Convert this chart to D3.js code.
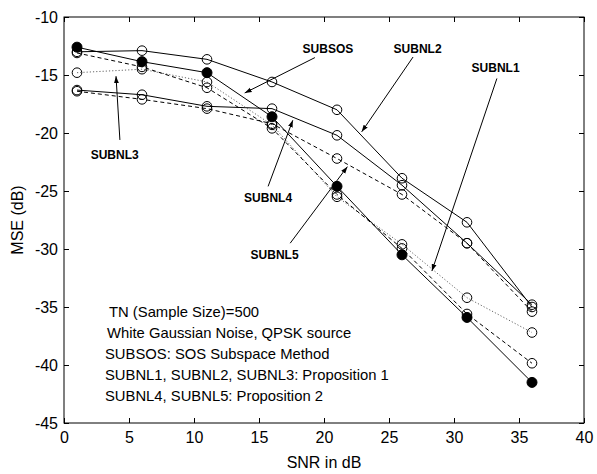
<!DOCTYPE html>
<html>
<head>
<meta charset="utf-8">
<script src="https://cdn.jsdelivr.net/npm/d3@7"></script>
<style>
body { margin: 0; background: #fff; }
text { font-family: Arial, "Liberation Sans", sans-serif; fill: #000; }
</style>
</head>
<body>
<svg id="chart" width="597" height="474"></svg>
<script>
// data
var snr = [1, 6, 11, 16, 21, 26, 31, 36];
var subsos = [-12.6, -13.85, -14.8, -18.6, -24.6, -30.5, -35.9, -41.5];
var subnl1 = [-13.1, -14.3, -16.1, -19.6, -25.3, -29.95, -35.6, -39.85];
var subnl2 = [-13.0, -12.9, -13.65, -15.6, -18.0, -23.9, -27.7, -35.0];
var subnl3 = [-14.8, -14.5, -15.6, -19.3, -25.5, -29.6, -34.2, -37.2];
var subnl4 = [-16.3, -16.7, -17.7, -17.9, -20.2, -24.5, -29.5, -34.8];
var subnl5 = [-16.4, -17.1, -17.9, -19.2, -22.2, -25.3, -29.5, -35.4];

var xTicks = [0, 5, 10, 15, 20, 25, 30, 35, 40];
var yTicks = [-10, -15, -20, -25, -30, -35, -40, -45];

var notes = ['TN (Sample Size)=500', 'White Gaussian Noise, QPSK source',
    'SUBSOS: SOS Subspace Method', 'SUBNL1, SUBNL2, SUBNL3: Proposition 1',
    'SUBNL4, SUBNL5: Proposition 2'];

// annotation labels, in data units
var annNames = ['SUBSOS', 'SUBNL2', 'SUBNL1', 'SUBNL3', 'SUBNL4', 'SUBNL5'];
var annText = [[20.3, -12.7], [27.2, -12.7], [33.2, -14.4], [3.9, -21.9], [15.7, -25.6], [16.2, -30.5]];
var annFrom = [[19.3, -13.5], [26.85, -13.45], [33.3, -15.3], [4.3, -20.6], [15.7, -24.6], [17.4, -29.5]];
var annTo = [[13.9, -16.55], [22.9, -19.9], [28.3, -31.9], [4.0, -15.1], [17.6, -18.9], [21.8, -22.9]];

var series = [
    { values: subnl2, dash: null, color: '#000', filled: false },
    { values: subnl4, dash: null, color: '#000', filled: false },
    { values: subnl5, dash: '4,3', color: '#000', filled: false },
    { values: subnl3, dash: '1.2,2', color: '#666', filled: false },
    { values: subnl1, dash: '4,3', color: '#000', filled: false },
    { values: subsos, dash: null, color: '#000', filled: true }
];

var margin = { top: 17, right: 13, bottom: 51, left: 64 };
var width = 597 - margin.left - margin.right;
var height = 474 - margin.top - margin.bottom;

var svg = d3.select('#chart');
var g = svg.append('g')
    .attr('transform', 'translate(' + margin.left + ',' + margin.top + ')');

var x = d3.scaleLinear().domain([0, 40]).range([0, width]);
var y = d3.scaleLinear().domain([-45, -10]).range([height, 0]);

// plain hyphen for negatives, like the original
function fmt(d) { return String(d); }

function styleAxis($a) {
    $a.select('.domain').remove();
    $a.selectAll('line').attr('stroke', '#000');
    $a.selectAll('text').style('font-size', '16px');
}

g.append('g')
    .attr('transform', 'translate(0,' + height + ')')
    .call(d3.axisBottom(x).tickValues(xTicks).tickSize(-5).tickPadding(9).tickFormat(fmt))
    .call(styleAxis);
g.append('g')
    .call(d3.axisTop(x).tickValues(xTicks).tickSize(-5).tickFormat(''))
    .call(styleAxis);
g.append('g')
    .call(d3.axisLeft(y).tickValues(yTicks).tickSize(-5).tickPadding(6).tickFormat(fmt))
    .call(styleAxis);
g.append('g')
    .attr('transform', 'translate(' + width + ',0)')
    .call(d3.axisRight(y).tickValues(yTicks).tickSize(-5).tickFormat(''))
    .call(styleAxis);

g.append('rect')
    .attr('width', width)
    .attr('height', height)
    .attr('fill', 'none')
    .attr('stroke', '#000')
    .attr('stroke-width', 1);

var line = d3.line()
    .x(function (d, i) { return x(snr[i]); })
    .y(function (d) { return y(d); });

series.forEach(function (s) {
    g.append('path')
        .attr('d', line(s.values))
        .attr('fill', 'none')
        .attr('stroke', s.color)
        .attr('stroke-width', 1)
        .attr('stroke-dasharray', s.dash);
});

series.forEach(function (s) {
    g.selectAll(null)
        .data(s.values)
        .enter().append('circle')
        .attr('cx', function (d, i) { return x(snr[i]); })
        .attr('cy', function (d) { return y(d); })
        .attr('r', s.filled ? 5 : 4.8)
        .attr('fill', s.filled ? '#000' : 'none')
        .attr('stroke', '#000')
        .attr('stroke-width', 1);
});

svg.append('defs').append('marker')
    .attr('id', 'head')
    .attr('viewBox', '0 0 10 10')
    .attr('refX', 10)
    .attr('refY', 5)
    .attr('markerWidth', 7)
    .attr('markerHeight', 7)
    .attr('orient', 'auto')
    .append('path')
    .attr('d', 'M0,1.5L10,5L0,8.5Z')
    .attr('fill', '#000');

annNames.forEach(function (name, i) {
    g.append('line')
        .attr('x1', x(annFrom[i][0]))
        .attr('y1', y(annFrom[i][1]))
        .attr('x2', x(annTo[i][0]))
        .attr('y2', y(annTo[i][1]))
        .attr('stroke', '#000')
        .attr('stroke-width', 1)
        .attr('marker-end', 'url(#head)');
    g.append('text')
        .attr('x', x(annText[i][0]))
        .attr('y', y(annText[i][1]))
        .attr('dy', '0.35em')
        .attr('text-anchor', 'middle')
        .style('font-size', '12px')
        .style('font-weight', 'bold')
        .text(name);
});

g.selectAll('.note')
    .data(notes)
    .enter().append('text')
    .attr('class', 'note')
    .attr('x', function (d, i) { return i === 0 ? 45 : (i === 1 ? 43 : 41); })
    .attr('y', function (d, i) { return 300 + i * 21; })
    .style('font-size', '14.8px')
    .text(function (d) { return d; });

svg.append('text')
    .attr('x', margin.left + width / 2)
    .attr('y', 468)
    .attr('text-anchor', 'middle')
    .style('font-size', '16px')
    .text('SNR in dB');

svg.append('text')
    .attr('transform', 'translate(23,' + (margin.top + height / 2) + ') rotate(-90)')
    .attr('text-anchor', 'middle')
    .style('font-size', '16px')
    .text('MSE (dB)');
</script>
</body>
</html>
